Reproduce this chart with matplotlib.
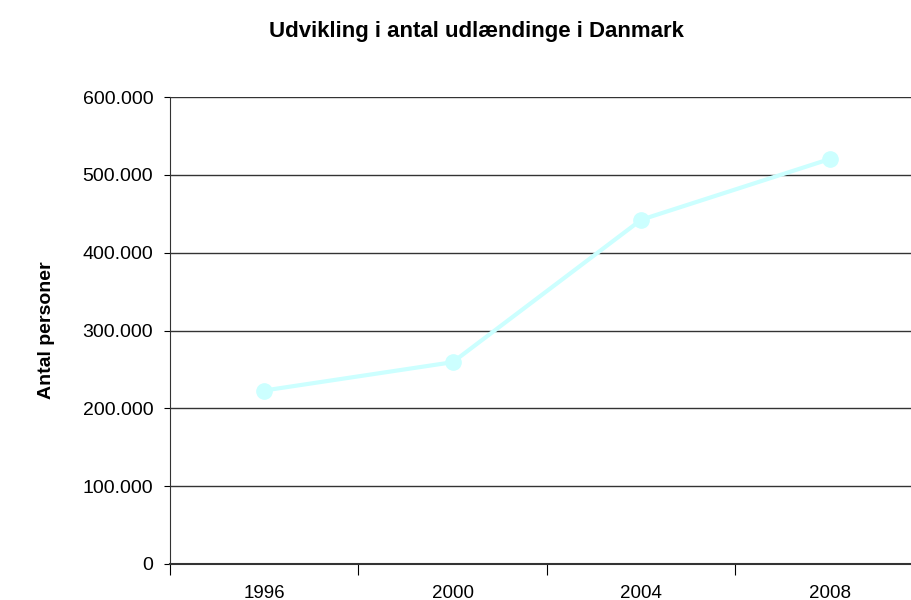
import matplotlib
matplotlib.use("Agg")
import matplotlib.pyplot as plt
from matplotlib.ticker import FuncFormatter

years = ["1996", "2000", "2004", "2008"]
persons = [222900, 259300, 442300, 520300]
yticks = [0, 100000, 200000, 300000, 400000, 500000, 600000]

plt.rcParams['font.family'] = ['Liberation Sans', 'DejaVu Sans']

fig = plt.figure(figsize=(9.12, 6.0), dpi=100)
ax = fig.add_axes([170/912, 36/600, 754/912, 467/600])

x = list(range(len(years)))
ax.plot(x, persons, color="#ccffff", linewidth=3, marker="o", markersize=11,
        markeredgecolor="#ccffff", markerfacecolor="#ccffff", zorder=3, clip_on=False)

ax.set_xlim(-0.5, len(years) - 0.5)
ax.set_ylim(0, 600000)
ax.set_yticks(yticks)
ax.yaxis.set_major_formatter(FuncFormatter(lambda v, p: f"{int(v):,}".replace(",", ".")))
ax.set_xticks(x)
ax.set_xticklabels(years)
ax.set_xticks([i + 0.5 for i in range(-1, len(years))], minor=True)
ax.tick_params(axis="x", which="major", length=0, pad=15, labelsize=13.5)
ax.tick_params(axis="x", which="minor", length=8, width=0.8, color="black")
ax.tick_params(axis="y", length=4, width=0.8, pad=8, labelsize=14)

for v in yticks[1:]:
    ax.axhline(v, color="#333333", linewidth=1.0, zorder=1)

for s in ["top", "right"]:
    ax.spines[s].set_visible(False)
ax.spines["left"].set_color("#333333")
ax.spines["bottom"].set_color("#333333")
ax.spines["bottom"].set_linewidth(1.5)

fig.text(476/912, 1 - 31/600, "Udvikling i antal udlændinge i Danmark", ha="center", va="center",
         fontsize=16, fontweight="bold")
fig.text(47/912, 1 - 330/600, "Antal personer", ha="center", va="center", rotation=90,
         fontsize=14, fontweight="bold")

fig.savefig("out.png", dpi=100)
